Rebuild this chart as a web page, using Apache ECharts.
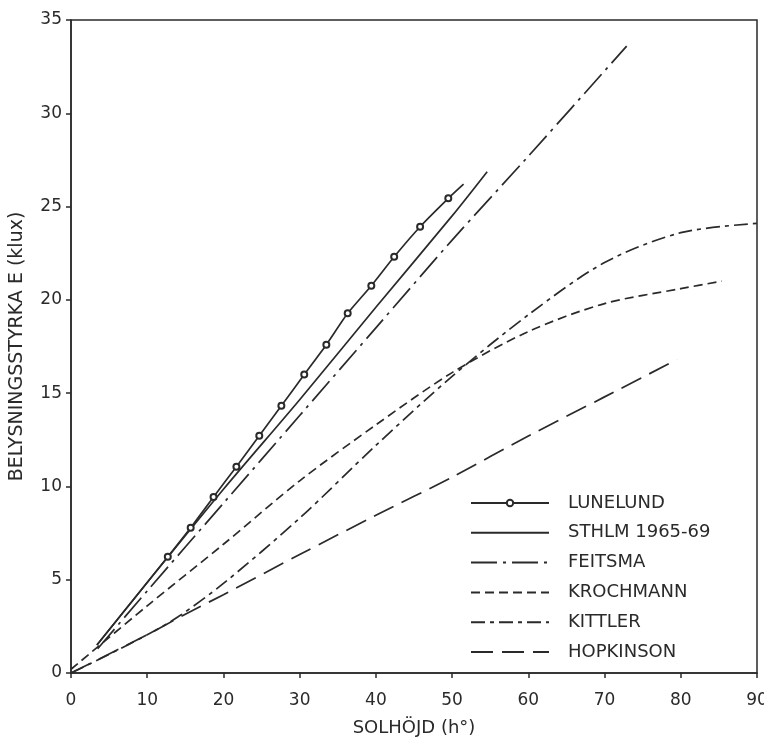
<!DOCTYPE html>
<html>
<head>
<meta charset="utf-8">
<script src="https://cdn.jsdelivr.net/npm/echarts@6/dist/echarts.min.js"></script>
<style>html,body{margin:0;padding:0;background:#fff}#c{width:764px;height:739px}</style>
</head>
<body>
<div id="c"></div>
<script>
// ---- data (x = solar altitude in degrees, y = illuminance in klux) ----
const xTicks = [0, 10, 20, 30, 40, 50, 60, 70, 80, 90];
const yTicks = [0, 5, 10, 15, 20, 25, 30, 35];
const seriesNames = ['LUNELUND', 'STHLM 1965-69', 'FEITSMA', 'KROCHMANN', 'KITTLER', 'HOPKINSON'];

const lunelund = [[3.4,1.5],[12.7,6.23],[15.7,7.79],[18.7,9.43],[21.7,11.06],[24.7,12.72],[27.6,14.32],[30.6,16.0],[33.5,17.6],[36.3,19.28],[39.4,20.76],[42.4,22.31],[45.8,23.92],[49.5,25.44],[51.5,26.2]];
const sthlm = [[3.4,1.5],[10,4.85],[20,9.85],[30,14.65],[40,19.6],[50,24.5],[54.6,26.87]];
const feitsma = [[3.5,1.3],[10,4.4],[20,9.1],[30,13.8],[40,18.5],[50,23.2],[60,27.7],[72.9,33.6]];
const krochmann = [[0,0.2],[10,3.6],[20,6.9],[30,10.3],[40,13.3],[50,16.1],[60,18.3],[70,19.8],[80,20.6],[85.4,21.0]];
const kittler = [[0,0],[5,1.0],[10,2.05],[14,3.0],[20,4.8],[30,8.3],[40,12.2],[50,15.9],[60,19.2],[70,22.0],[80,23.6],[90,24.1]];
const hopkinson = [[0,0],[5,1.02],[10,2.05],[15,3.15],[20,4.2],[30,6.35],[40,8.45],[50,10.5],[60,12.7],[70,14.8],[79.5,16.8]];

const INK = '#2a2a2a';
const FONT = '"DejaVu Sans", sans-serif';

function line(name, data, dash, extra) {
  return Object.assign({
    name: name,
    type: 'line',
    data: data,
    showSymbol: false,
    symbol: 'none',
    smooth: 0.3,
    lineStyle: { color: INK, width: 1.7, type: dash },
    itemStyle: { color: INK },
    animation: false
  }, extra || {});
}

const lastIdx = lunelund.length - 1;

const chart = echarts.init(document.getElementById('c'), null, { renderer: 'canvas' });
chart.setOption({
  backgroundColor: '#fff',
  animation: false,
  grid: { left: 71, right: 7, top: 20, bottom: 66, containLabel: false, outerBoundsMode: 'none',
          show: true, borderColor: INK, borderWidth: 1.5, backgroundColor: 'transparent' },
  xAxis: {
    type: 'value', min: 0, max: 90, interval: 10,
    name: 'SOLHÖJD (h°)', nameLocation: 'middle', nameGap: 46,
    nameTextStyle: { color: INK, fontSize: 18, fontFamily: FONT },
    axisLine: { show: true, lineStyle: { color: INK, width: 1.5 } },
    axisTick: { show: true, length: 5, lineStyle: { color: INK, width: 1.5 } },
    axisLabel: { color: INK, fontSize: 17, fontFamily: FONT, margin: 19, formatter: v => String(v) },
    splitLine: { show: false }
  },
  yAxis: {
    type: 'value', min: 0, max: 35, interval: 5,
    name: 'BELYSNINGSSTYRKA E (klux)', nameLocation: 'middle', nameGap: 44, nameRotate: 90,
    nameTextStyle: { color: INK, fontSize: 19, fontFamily: FONT },
    axisLine: { show: true, lineStyle: { color: INK, width: 1.5 } },
    axisTick: { show: true, length: 5, lineStyle: { color: INK, width: 1.5 } },
    axisLabel: { color: INK, fontSize: 17, fontFamily: FONT, margin: 9 },
    splitLine: { show: false }
  },
  legend: {
    orient: 'vertical', left: 470, top: 494, padding: 0,
    itemWidth: 78, itemHeight: 8, itemGap: 11.8,
    textStyle: { color: INK, fontSize: 18, fontFamily: FONT, padding: [0, 0, 0, 14] },
    data: seriesNames.map((n, i) => i === 0 ? { name: n } : { name: n, itemStyle: { opacity: 0 } }),
    selectedMode: false
  },
  series: [
    line(seriesNames[0], lunelund, 'solid', {
      showSymbol: true, symbol: 'emptyCircle', smooth: 0.2,
      symbolSize: (v, p) => (p.dataIndex === 0 || p.dataIndex === lastIdx) ? 0 : 6,
      itemStyle: { color: INK, borderWidth: 1.3 }
    }),
    line(seriesNames[1], sthlm, 'solid'),
    line(seriesNames[2], feitsma, [26, 6, 3, 6]),
    line(seriesNames[3], krochmann, [9, 5]),
    line(seriesNames[4], kittler, [14, 5, 4, 5]),
    line(seriesNames[5], hopkinson, [22, 9])
  ]
});
</script>
</body>
</html>
